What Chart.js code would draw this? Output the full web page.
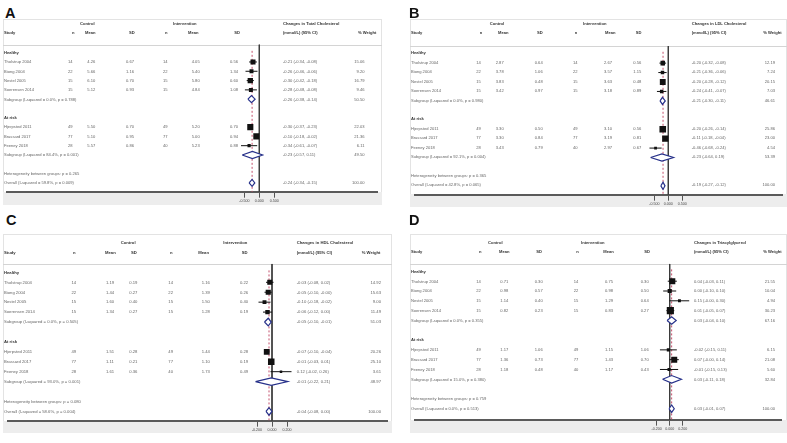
<!DOCTYPE html>
<html>
<head>
<meta charset="utf-8">
<script src="https://cdn.jsdelivr.net/npm/chart.js@4.4.1/dist/chart.umd.min.js"></script>
<style>
  body { margin: 0; width: 787px; height: 443px; overflow: hidden; background: #fff; position: relative;
         font-family: "Liberation Sans", Arial, sans-serif; }
  .letter { position: absolute; font-weight: bold; font-size: 14.5px; line-height: 1; color: #111; }
  .box { position: absolute; background: #fff; box-shadow: inset 0 0 0 1px #e3e3e3; }
  .band { position: absolute; left: 0; right: 0; bottom: 0; background: #ededed; }
  .sep { position: absolute; left: 0; right: 0; height: 1px; background: #d4d4d4; }
  .box canvas { position: absolute; left: 0; top: 0; }
  .t { position: absolute; white-space: nowrap; line-height: 1; color: #666; transform: translateY(-50%); }
  .t.r { transform: translate(-100%, -50%); }
  .t.b { font-weight: bold; color: #333; }
</style>
</head>
<body>
<script>
// studies and groups (same in all four panels)
const studies = ["Tholstrup 2004", "Biong 2004", "Nestel 2005", "Soerensen 2014", "Hjerpsted 2011", "Brassard 2017", "Feeney 2018"];
const groupNames = ["Healthy", "At risk"];
const controlN = [14, 22, 15, 15, 49, 77, 28];
const interventionN = [14, 22, 15, 15, 49, 77, 40];

// A - total cholesterol
const tcControlMean = [4.26, 5.66, 6.10, 5.12, 5.50, 5.10, 5.57];
const tcControlSd = [0.67, 1.16, 0.70, 0.93, 0.70, 0.95, 0.86];
const tcInterventionMean = [4.05, 5.40, 5.80, 4.84, 5.20, 5.00, 5.23];
const tcInterventionSd = [0.56, 1.34, 0.60, 1.08, 0.70, 0.94, 0.88];
const tcEffect = [-0.21, -0.26, -0.30, -0.28, -0.30, -0.10, -0.34];
const tcLow = [-0.34, -0.46, -0.42, -0.48, -0.37, -0.18, -0.61];
const tcHigh = [-0.08, -0.06, -0.18, -0.08, -0.23, -0.02, -0.07];
const tcWeight = [15.06, 9.20, 16.79, 9.46, 22.03, 21.36, 6.11];
const tcSubgroup = [-0.26, -0.23];
const tcSubgroupLow = [-0.38, -0.57];
const tcSubgroupHigh = [-0.14, 0.11];
const tcSubgroupWeight = [50.50, 49.50];
const tcSubgroupI2 = ["0.0%", "84.4%"];
const tcSubgroupP = ["0.788", "0.001"];
const tcOverall = [-0.24, -0.34, -0.15];
const tcOverallStats = ["59.8%", "0.009", "0.265"]; // I-squared, p, heterogeneity p

// B - LDL cholesterol
const ldlControlMean = [2.87, 3.78, 3.83, 3.42, 3.30, 3.30, 3.43];
const ldlControlSd = [0.64, 1.06, 0.48, 0.97, 0.50, 0.84, 0.79];
const ldlInterventionMean = [2.67, 3.57, 3.63, 3.18, 3.10, 3.19, 2.97];
const ldlInterventionSd = [0.56, 1.15, 0.48, 0.89, 0.56, 0.81, 0.67];
const ldlEffect = [-0.20, -0.21, -0.20, -0.24, -0.20, -0.11, -0.46];
const ldlLow = [-0.32, -0.36, -0.28, -0.41, -0.26, -0.18, -0.68];
const ldlHigh = [-0.08, -0.06, -0.12, -0.07, -0.14, -0.04, -0.24];
const ldlWeight = [12.19, 7.24, 20.15, 7.03, 25.86, 23.00, 4.54];
const ldlSubgroup = [-0.21, -0.23];
const ldlSubgroupLow = [-0.30, -0.64];
const ldlSubgroupHigh = [-0.11, 0.19];
const ldlSubgroupWeight = [46.61, 53.39];
const ldlSubgroupI2 = ["0.0%", "92.1%"];
const ldlSubgroupP = ["0.980", "0.004"];
const ldlOverall = [-0.19, -0.27, -0.12];
const ldlOverallStats = ["42.8%", "0.065", "0.365"];

// C - HDL cholesterol
const hdlControlMean = [1.19, 1.44, 1.60, 1.34, 1.51, 1.11, 1.61];
const hdlControlSd = [0.19, 0.27, 0.40, 0.27, 0.28, 0.21, 0.36];
const hdlInterventionMean = [1.16, 1.39, 1.50, 1.28, 1.44, 1.10, 1.73];
const hdlInterventionSd = [0.22, 0.26, 0.40, 0.19, 0.28, 0.19, 0.49];
const hdlEffect = [-0.03, -0.05, -0.10, -0.06, -0.07, -0.01, 0.12];
const hdlLow = [-0.08, -0.10, -0.18, -0.12, -0.10, -0.03, -0.02];
const hdlHigh = [0.02, -0.004, -0.02, 0.00, -0.04, 0.01, 0.26];
const hdlWeight = [14.92, 15.63, 9.00, 11.49, 20.26, 25.10, 3.61];
const hdlSubgroup = [-0.05, -0.01];
const hdlSubgroupLow = [-0.10, -0.22];
const hdlSubgroupHigh = [-0.01, 0.21];
const hdlSubgroupWeight = [51.03, 48.97];
const hdlSubgroupI2 = ["0.0%", "93.0%"];
const hdlSubgroupP = ["0.505", "0.001"];
const hdlOverall = [-0.04, -0.08, 0.00];
const hdlOverallStats = ["58.6%", "0.004", "0.080"];

// D - triacylglycerol
const tgControlMean = [0.71, 0.98, 1.14, 0.82, 1.17, 1.36, 1.18];
const tgControlSd = [0.30, 0.57, 0.40, 0.23, 1.06, 0.73, 0.48];
const tgInterventionMean = [0.75, 0.98, 1.29, 0.83, 1.15, 1.43, 1.17];
const tgInterventionSd = [0.30, 0.50, 0.64, 0.27, 1.06, 0.70, 0.43];
const tgEffect = [0.04, 0.00, 0.15, 0.01, -0.02, 0.07, -0.01];
const tgLow = [-0.03, -0.10, -0.004, -0.05, -0.15, -0.004, -0.15];
const tgHigh = [0.11, 0.10, 0.30, 0.07, 0.11, 0.14, 0.13];
const tgWeight = [21.55, 10.04, 4.94, 30.23, 6.15, 21.08, 5.60];
const tgSubgroup = [0.03, 0.03];
const tgSubgroupLow = [-0.04, -0.11];
const tgSubgroupHigh = [0.10, 0.18];
const tgSubgroupWeight = [67.16, 32.84];
const tgSubgroupI2 = ["0.0%", "15.0%"];
const tgSubgroupP = ["0.355", "0.380"];
const tgOverall = [0.03, -0.01, 0.07];
const tgOverallStats = ["0.0%", "0.513", "0.759"];

const tickA = [-0.5, 0, 0.5];
const tickC = [-0.2, 0, 0.2];

// rows of the table: 0 group, 1-4 studies, 5 subgroup, 7 group, 8-10 studies, 11 subgroup, 13 het, 14 overall
const studyRows = [1, 2, 3, 4, 8, 9, 10];
const groupRows = [0, 7];
const subgroupRows = [5, 11];

const outcomes = [
  { letter: "A", title: "Changes in Total Cholesterol", cm: tcControlMean, cs: tcControlSd, im: tcInterventionMean, is: tcInterventionSd,
    e: tcEffect, lo: tcLow, hi: tcHigh, w: tcWeight, se: tcSubgroup, slo: tcSubgroupLow, shi: tcSubgroupHigh, sw: tcSubgroupWeight,
    si2: tcSubgroupI2, sp: tcSubgroupP, ov: tcOverall, os: tcOverallStats, ticks: tickA },
  { letter: "B", title: "Changes in LDL Cholesterol", cm: ldlControlMean, cs: ldlControlSd, im: ldlInterventionMean, is: ldlInterventionSd,
    e: ldlEffect, lo: ldlLow, hi: ldlHigh, w: ldlWeight, se: ldlSubgroup, slo: ldlSubgroupLow, shi: ldlSubgroupHigh, sw: ldlSubgroupWeight,
    si2: ldlSubgroupI2, sp: ldlSubgroupP, ov: ldlOverall, os: ldlOverallStats, ticks: tickA },
  { letter: "C", title: "Changes in HDL Cholesterol", cm: hdlControlMean, cs: hdlControlSd, im: hdlInterventionMean, is: hdlInterventionSd,
    e: hdlEffect, lo: hdlLow, hi: hdlHigh, w: hdlWeight, se: hdlSubgroup, slo: hdlSubgroupLow, shi: hdlSubgroupHigh, sw: hdlSubgroupWeight,
    si2: hdlSubgroupI2, sp: hdlSubgroupP, ov: hdlOverall, os: hdlOverallStats, ticks: tickC },
  { letter: "D", title: "Changes in Triacylglycerol", cm: tgControlMean, cs: tgControlSd, im: tgInterventionMean, is: tgInterventionSd,
    e: tgEffect, lo: tgLow, hi: tgHigh, w: tgWeight, se: tgSubgroup, slo: tgSubgroupLow, shi: tgSubgroupHigh, sw: tgSubgroupWeight,
    si2: tgSubgroupI2, sp: tgSubgroupP, ov: tgOverall, os: tgOverallStats, ticks: tickC }
];

// page layout of each panel (pixels)
const layouts = [
  { lx: 5, ly: 6.4, L: 3, T: 19, R: 382, axisY: 192, B: 205, y0: 53, s: 9.3, h1: 24, h2: 33, sepY: 45, font: 4.1,
    study: 4, n: 68, nH: 72, mean: 87.3, meanH: 85, sd: 126, sdH: 129, in: 163, inH: 165, imean: 191.7, imeanH: 188,
    isd: 230, isdH: 234.3, ci: 283, wR: 364.5, wH: 358, ctrl: 80, intv: 173, zero: 259.3, k: 30 },
  { lx: 409, ly: 6.4, L: 410, T: 19, R: 787, axisY: 194.3, B: 206.7, y0: 53.3, s: 9.44, h1: 24.3, h2: 33.3, sepY: 45.7, font: 4.1,
    study: 411, n: 476.3, nH: 479.7, mean: 495.7, meanH: 498, sd: 534.7, sdH: 537, in: 573, inH: 574.7, imean: 604, imeanH: 605,
    isd: 633.3, isdH: 635.7, ci: 691.7, wR: 775, wH: 763.3, ctrl: 489.7, intv: 583, zero: 668.3, k: 27.7 },
  { lx: 6, ly: 212.6, L: 3, T: 234, R: 392, axisY: 421, B: 432.7, y0: 272.7, s: 9.93, h1: 242.7, h2: 252.7, sepY: 264.3, font: 4.2,
    study: 4, n: 71.5, nH: 73, mean: 106, meanH: 105, sd: 129.3, sdH: 131, in: 168.3, inH: 170, imean: 201.7, imeanH: 198.3,
    isd: 240, isdH: 241.7, ci: 296.7, wR: 381, wH: 361.7, ctrl: 120.7, intv: 223.3, zero: 272, k: 75 },
  { lx: 409, ly: 212.6, L: 410, T: 234, R: 787, axisY: 420, B: 432.7, y0: 271.7, s: 9.81, h1: 242.7, h2: 252, sepY: 264.3, font: 4.1,
    study: 411, n: 476.3, nH: 479, mean: 500.3, meanH: 499, sd: 534.7, sdH: 536.3, in: 573.7, inH: 576.3, imean: 605, imeanH: 603.3,
    isd: 640.7, isdH: 644.3, ci: 694, wR: 775, wH: 763.3, ctrl: 488, intv: 581, zero: 669.7, k: 65 }
];

function fmt(v) { return v.toFixed(2); }
function ciText(e, lo, hi) { return fmt(e) + " (" + fmt(lo) + ", " + fmt(hi) + ")"; }

function addText(parent, x, y, str, cls) {
  const d = document.createElement("div");
  d.className = "t" + (cls ? " " + cls : "");
  d.style.left = x + "px";
  d.style.top = y + "px";
  d.textContent = str;
  parent.appendChild(d);
}

function diamond(e, lo, hi, r) {
  const h = 0.38;
  return [{ x: lo, y: r }, { x: e, y: r - h }, { x: hi, y: r }, { x: e, y: r + h }, { x: lo, y: r }];
}

function buildPanel(o, p) {
  const W = p.R - p.L, H = p.B - p.T;

  const letter = document.createElement("div");
  letter.className = "letter";
  letter.style.left = p.lx + "px";
  letter.style.top = p.ly + "px";
  letter.textContent = o.letter;
  document.body.appendChild(letter);

  const box = document.createElement("div");
  box.className = "box";
  box.style.left = p.L + "px";
  box.style.top = p.T + "px";
  box.style.width = W + "px";
  box.style.height = H + "px";
  box.style.fontSize = p.font + "px";
  document.body.appendChild(box);

  const band = document.createElement("div");
  band.className = "band";
  band.style.top = (p.axisY - p.T) + "px";
  box.appendChild(band);
  const sep = document.createElement("div");
  sep.className = "sep";
  sep.style.top = (p.sepY - p.T) + "px";
  box.appendChild(sep);

  const canvas = document.createElement("canvas");
  canvas.width = W;
  canvas.height = H;
  box.appendChild(canvas);

  // table text
  const X = x => x - p.L;
  const rowY = r => p.y0 + r * p.s - p.T;
  const h1 = p.h1 - p.T, h2 = p.h2 - p.T;
  addText(box, X(p.ctrl), h1, "Control", "b");
  addText(box, X(p.intv), h1, "Intervention", "b");
  addText(box, X(p.ci), h1, o.title, "b");
  addText(box, X(p.study), h2, "Study", "b");
  addText(box, X(p.nH), h2, "n", "b");
  addText(box, X(p.meanH), h2, "Mean", "b");
  addText(box, X(p.sdH), h2, "SD", "b");
  addText(box, X(p.inH), h2, "n", "b");
  addText(box, X(p.imeanH), h2, "Mean", "b");
  addText(box, X(p.isdH), h2, "SD", "b");
  addText(box, X(p.ci), h2, "(mmol/L) (95% CI)", "b");
  addText(box, X(p.wH), h2, "% Weight", "b");

  groupRows.forEach((r, g) => addText(box, X(p.study), rowY(r), groupNames[g], "b"));
  studyRows.forEach((r, i) => {
    const y = rowY(r);
    addText(box, X(p.study), y, studies[i]);
    addText(box, X(p.n), y, String(controlN[i]));
    addText(box, X(p.mean), y, fmt(o.cm[i]));
    addText(box, X(p.sd), y, fmt(o.cs[i]));
    addText(box, X(p.in), y, String(interventionN[i]));
    addText(box, X(p.imean), y, fmt(o.im[i]));
    addText(box, X(p.isd), y, fmt(o.is[i]));
    addText(box, X(p.ci), y, ciText(o.e[i], o.lo[i], o.hi[i]));
    addText(box, X(p.wR), y, fmt(o.w[i]), "r");
  });
  subgroupRows.forEach((r, g) => {
    const y = rowY(r);
    addText(box, X(p.study), y, "Subgroup (I-squared = " + o.si2[g] + ", p = " + o.sp[g] + ")");
    addText(box, X(p.ci), y, ciText(o.se[g], o.slo[g], o.shi[g]));
    addText(box, X(p.wR), y, fmt(o.sw[g]), "r");
  });
  addText(box, X(p.study), rowY(13), "Heterogeneity between groups: p = " + o.os[2]);
  addText(box, X(p.study), rowY(14), "Overall (I-squared = " + o.os[0] + ", p = " + o.os[1] + ")");
  addText(box, X(p.ci), rowY(14), ciText(o.ov[0], o.ov[1], o.ov[2]));
  addText(box, X(p.wR), rowY(14), "100.00", "r");

  // forest plot marks
  const sepRow = (p.sepY - p.y0) / p.s;
  const ciData = [];
  studyRows.forEach((r, i) => {
    ciData.push({ x: o.lo[i], y: r }, { x: o.hi[i], y: r }, { x: null, y: null });
  });
  const squareData = studyRows.map((r, i) => ({ x: o.e[i], y: r }));
  const diamonds = [
    diamond(o.se[0], o.slo[0], o.shi[0], subgroupRows[0]),
    diamond(o.se[1], o.slo[1], o.shi[1], subgroupRows[1]),
    diamond(o.ov[0], o.ov[1], o.ov[2], 14)
  ];

  const chart = new Chart(canvas.getContext("2d"), {
    type: "scatter",
    data: {
      datasets: [
        { data: [{ x: 0, y: sepRow }, { x: 0, y: 40 }], showLine: true, borderColor: "#3c3c3c", borderWidth: 1,
          pointRadius: 0, order: 6 },
        { data: [{ x: o.ov[0], y: -0.2 }, { x: o.ov[0], y: 40 }], showLine: true, borderColor: "#c4506c", borderWidth: 1,
          borderDash: [2, 2], pointRadius: 0, order: 5 },
        { data: ciData, showLine: true, spanGaps: false, borderColor: "#111", borderWidth: 1, pointRadius: 0, order: 4 },
        { data: squareData, pointStyle: "rect", backgroundColor: "#111", borderWidth: 0, order: 3,
          pointRadius: ctx => 0.92 * Math.sqrt(o.w[ctx.dataIndex]) },
        ...diamonds.map(d => ({ data: d, showLine: true, fill: "shape", backgroundColor: "#fff", borderColor: "#27318a",
          borderWidth: 1.2, pointRadius: 0, order: 1 }))
      ]
    },
    options: {
      responsive: false,
      animation: false,
      devicePixelRatio: 1,
      events: [],
      layout: { padding: 0 },
      plugins: { legend: { display: false }, tooltip: { enabled: false } },
      scales: {
        x: {
          type: "linear", position: "bottom", min: -1, max: 1,
          afterBuildTicks: s => { s.ticks = o.ticks.map(v => ({ value: v })); },
          grid: { drawOnChartArea: false, drawTicks: true, tickLength: 6, color: "#555", lineWidth: 1 },
          border: { display: true, color: "#5a5a5a", width: 2 },
          ticks: { font: { size: 3.6, family: "Liberation Sans" }, color: "#444", padding: 1, maxRotation: 0,
                   autoSkip: false, callback: v => v.toFixed(3) }
        },
        y: { type: "linear", display: false, reverse: true, min: -3, max: 15 }
      }
    }
  });

  // line the axis up with the table bottom, then map rows and values to the reference pixels
  const a = chart.chartArea;
  const off = (p.axisY - p.T) - a.bottom;
  canvas.style.top = off + "px";
  const canvasTop = p.T + off;
  const ymin = (canvasTop + a.top - p.y0) / p.s;
  const xmin = (p.L + a.left - p.zero) / p.k;
  chart.options.scales.y.min = ymin;
  chart.options.scales.y.max = ymin + (a.bottom - a.top) / p.s;
  chart.options.scales.x.min = xmin;
  chart.options.scales.x.max = xmin + (a.right - a.left) / p.k;
  chart.update();
}

outcomes.forEach((o, i) => buildPanel(o, layouts[i]));
</script>
</body>
</html>
